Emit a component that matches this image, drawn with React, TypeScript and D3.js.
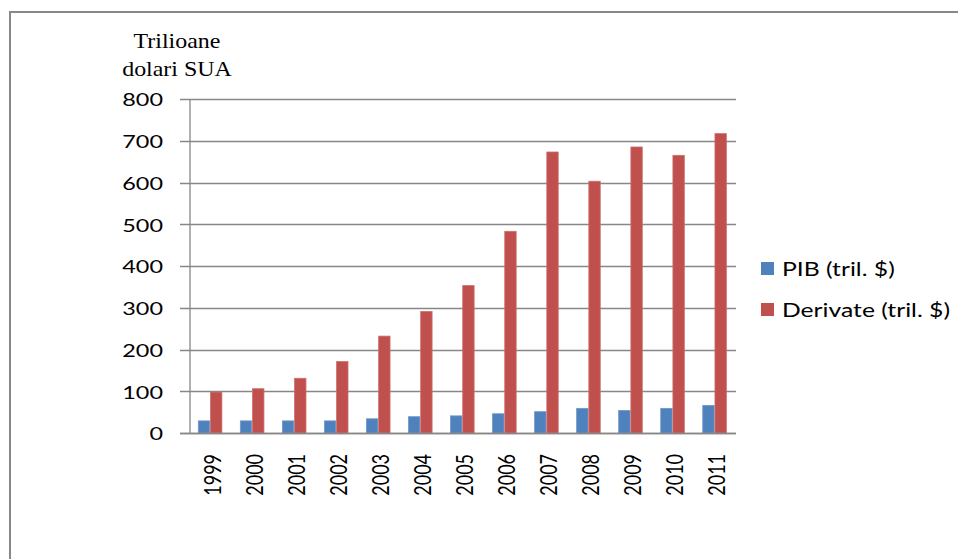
import React from "react";
import * as d3 from "d3";

const years = ["1999", "2000", "2001", "2002", "2003", "2004", "2005", "2006", "2007", "2008", "2009", "2010", "2011"];
const pib = [30, 30, 30, 30, 35, 40, 42, 47, 52, 60, 55, 60, 67];
const derivate = [99, 107, 132, 172, 233, 292, 354, 484, 674, 604, 686, 666, 718];
const seriesNames = ["PIB (tril. $)", "Derivate (tril. $)"];
const seriesColors = ["#4F81BD", "#C0504D"];
const seriesEdges = ["#6E97C8", "#CB6E6B"];
const yTicks = [0, 100, 200, 300, 400, 500, 600, 700, 800];
const titleLines = ["Trilioane", "dolari SUA"];

const W = 958;
const H = 559;
const SX = 1.3; // horizontal stretch applied to the sans labels
const sans = "Lato, 'Open Sans', sans-serif";
const serif = "'Liberation Serif', 'Times New Roman', serif";

export default function App() {
  const x = d3.scaleBand<string>().domain(years).range([189.5, 736]).paddingInner(0).paddingOuter(0);
  const y = d3.scaleLinear().domain([0, 800]).range([433, 99]);
  const bw = x.bandwidth();
  const inner = d3.scaleBand<number>().domain([0, 1]).range([bw * 0.2, bw * 0.78]);
  const data = [pib, derivate];

  return (
    <svg width={W} height={H} style={{ position: "absolute", left: 0, top: 0, background: "#fff" }}>
      {/* outer frame */}
      <line x1={10} y1={12} x2={W} y2={12} stroke="#888" strokeWidth={2} />
      <line x1={10} y1={11} x2={10} y2={H} stroke="#888" strokeWidth={2} />

      {/* unit title */}
      {titleLines.map((t, i) => (
        <text
          key={t}
          transform={`translate(177, ${48 + i * 28}) scale(1.14,1)`}
          textAnchor="middle"
          fontFamily={serif}
          fontSize={21}
          fill="#000"
        >
          {t}
        </text>
      ))}

      {/* gridlines and y ticks */}
      {yTicks.map((t) => (
        <g key={t}>
          <line x1={180} x2={736} y1={Math.round(y(t)) + 0.5} y2={Math.round(y(t)) + 0.5} stroke="#878787" strokeWidth={1.3} />
          <text
            transform={`translate(163, ${y(t)}) scale(${SX},1)`}
            textAnchor="end"
            dominantBaseline="central"
            fontFamily={sans}
            fontSize={18}
            fill="#000"
          >
            {t}
          </text>
        </g>
      ))}
      <line x1={190} x2={190} y1={99} y2={433} stroke="#878787" strokeWidth={1.3} />

      {/* bars */}
      {years.map((yr, i) => (
        <g key={yr} transform={`translate(${x(yr)},0)`}>
          {data.map((s, k) => (
            <rect
              key={k}
              x={(inner(k) as number) + 0.4}
              width={inner.bandwidth() - 0.8}
              y={y(s[i]) + 0.4}
              height={y(0) - y(s[i]) - 0.4}
              fill={seriesColors[k]}
              stroke={seriesEdges[k]}
              strokeWidth={0.8}
            />
          ))}
        </g>
      ))}
      <line x1={180} x2={736} y1={433.5} y2={433.5} stroke="#878787" strokeWidth={1.3} />

      {/* year labels */}
      {years.map((yr) => (
        <text
          key={yr}
          transform={`translate(${(x(yr) as number) + bw / 2 + 0.5}, 454) scale(${SX},1) rotate(-90)`}
          textAnchor="end"
          dominantBaseline="central"
          fontFamily={sans}
          fontSize={18}
          fill="#000"
        >
          {yr}
        </text>
      ))}

      {/* legend */}
      {seriesNames.map((n, k) => (
        <g key={n} transform={`translate(761, ${262 + k * 41})`}>
          <rect width={13} height={13} fill={seriesColors[k]} />
          <text
            transform={`translate(21, 6.5) scale(${SX},1)`}
            dominantBaseline="central"
            fontFamily={sans}
            fontSize={19}
            fill="#000"
          >
            {n}
          </text>
        </g>
      ))}
    </svg>
  );
}
